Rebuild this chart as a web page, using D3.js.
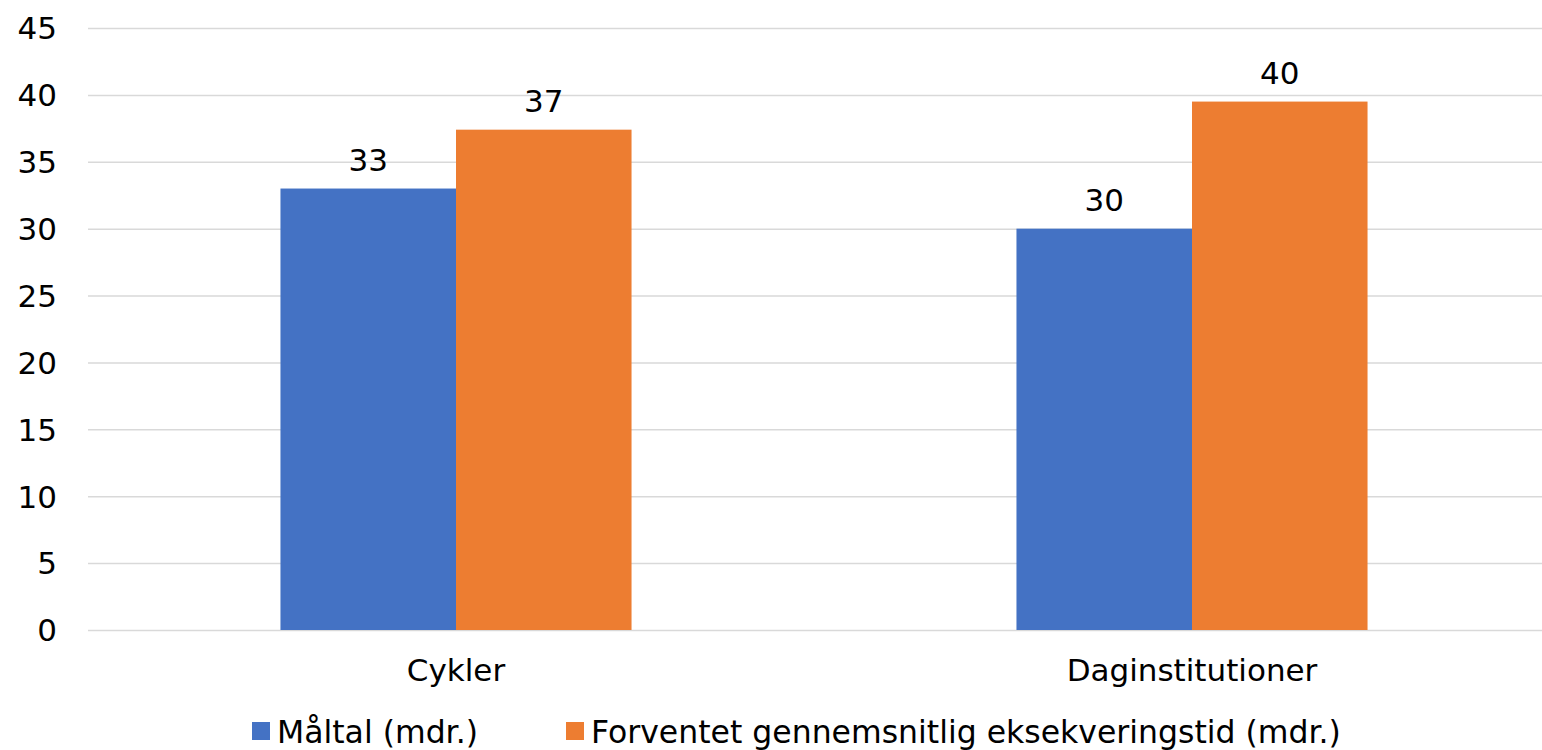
<!DOCTYPE html>
<html>
<head>
<meta charset="utf-8">
<script src="https://cdn.jsdelivr.net/npm/d3@7"></script>
<style>
  html, body { margin: 0; padding: 0; background: #fff; overflow: hidden; }
  text { font-family: "DejaVu Sans", sans-serif; fill: #000; }
</style>
</head>
<body>
<div class="Chart"></div>
<script>
const categories = ['Cykler', 'Daginstitutioner'];
const seriesNames = ['Måltal (mdr.)', 'Forventet gennemsnitlig eksekveringstid (mdr.)'];
const seriesColors = ['#4472C4', '#ED7D31'];
const maltal = [33, 30];
const forventet = [37.4, 39.5];
const yTicks = [0, 5, 10, 15, 20, 25, 30, 35, 40, 45];

const width = 1542, height = 750;
const svg = d3.select('.Chart').append('svg')
  .attr('width', width).attr('height', height);

const yScale = d3.scaleLinear().domain([0, 45]).range([630, 28]);
const x0 = d3.scaleBand().domain(categories).range([88, 1560])
  .paddingInner(0.523).paddingOuter(0.2615);
const x1 = d3.scaleBand().domain([0, 1]).range([0, x0.bandwidth()]);

// gridlines + y labels
const yAxis = svg.append('g').attr('transform', 'translate(88,0)')
  .call(d3.axisLeft(yScale).tickValues(yTicks).tickSize(-1472).tickPadding(31));
yAxis.selectAll('.domain').remove();
yAxis.selectAll('line').style('stroke', '#D9D9D9').style('stroke-width', 1.5);
yAxis.selectAll('text').style('font-size', '31px').style('font-family', '"DejaVu Sans", sans-serif')
  .attr('dy', '0.35em');

const rows = [];
categories.forEach((c, i) => {
  rows.push({ cat: c, s: 0, v: maltal[i] });
  rows.push({ cat: c, s: 1, v: forventet[i] });
});

svg.append('g').selectAll('rect').data(rows).enter().append('rect')
  .attr('x', d => x0(d.cat) + x1(d.s))
  .attr('width', x1.bandwidth())
  .attr('y', d => yScale(d.v))
  .attr('height', d => yScale(0) - yScale(d.v))
  .attr('fill', d => seriesColors[d.s]);

svg.append('g').selectAll('text').data(rows).enter().append('text')
  .attr('x', d => x0(d.cat) + x1(d.s) + x1.bandwidth() / 2)
  .attr('y', d => yScale(d.v) - 18)
  .attr('text-anchor', 'middle')
  .style('font-size', '31px')
  .text(d => Math.round(d.v));

// category axis labels
svg.append('g').selectAll('text').data(categories).enter().append('text')
  .attr('x', d => x0(d) + x0.bandwidth() / 2)
  .attr('y', 681)
  .attr('text-anchor', 'middle')
  .style('font-size', '31px')
  .text(d => d);

// legend
const legendX = [252, 566];
const lg = svg.append('g').selectAll('g').data(seriesNames).enter().append('g')
  .attr('transform', (d, i) => `translate(${legendX[i]},722)`);
lg.append('rect').attr('width', 18).attr('height', 18).attr('fill', (d, i) => seriesColors[i]);
lg.append('text').attr('x', 25).attr('y', 21).style('font-size', '31.5px').text(d => d);
</script>
</body>
</html>
